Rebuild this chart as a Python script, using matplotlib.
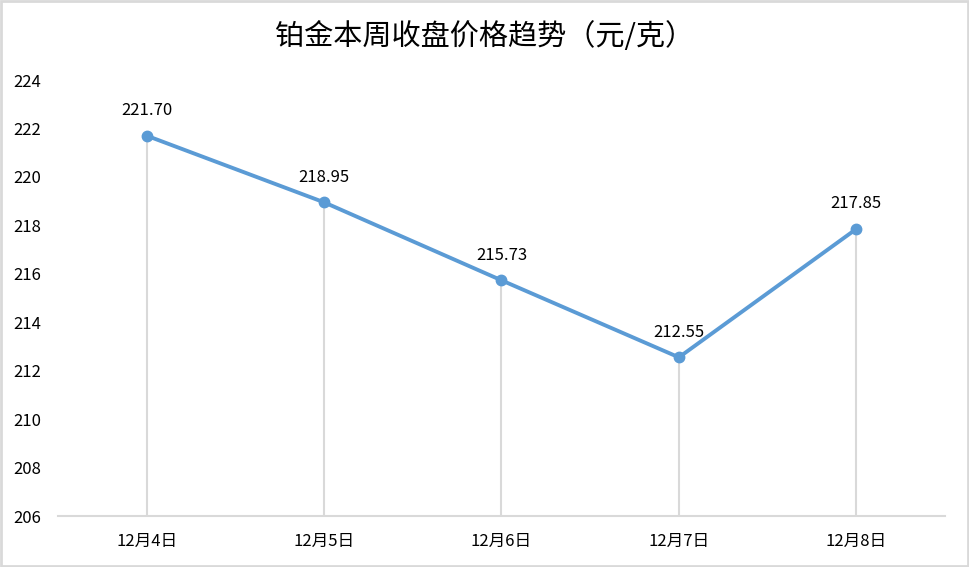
import matplotlib
matplotlib.use('Agg')
import matplotlib.pyplot as plt
from matplotlib.patches import Rectangle

plt.rcParams['font.family'] = ['Noto Sans CJK SC', 'DejaVu Sans']

dates = ['12月4日', '12月5日', '12月6日', '12月7日', '12月8日']
prices = [221.70, 218.95, 215.73, 212.55, 217.85]
yticks = [206, 208, 210, 212, 214, 216, 218, 220, 222, 224]

fig = plt.figure(figsize=(9.69, 5.67), dpi=100)
ax = fig.add_axes([58/969, 1 - 516/567, (945 - 58)/969, (516 - 80)/567])

x = list(range(len(dates)))
line_color = '#5b9bd5'
grey = '#d9d9d9'

# drop lines from each point down to the axis
ax.vlines(x, 206, prices, color=grey, linewidth=1.5, zorder=1)
ax.plot(x, prices, color=line_color, linewidth=2.8, marker='o', markersize=7.5, zorder=3)

for xi, p in zip(x, prices):
    ax.annotate(f'{p:.2f}', (xi, p), xytext=(0, 12), textcoords='offset points',
                ha='center', va='bottom', fontsize=12, color='#000000')

ax.set_xlim(-0.5, 4.5)
ax.set_ylim(206, 224)
ax.set_xticks(x)
ax.set_xticklabels(dates, fontsize=12)
ax.set_yticks(yticks)
ax.set_yticklabels([str(t) for t in yticks], fontsize=12)
ax.tick_params(axis='both', length=0)
ax.tick_params(axis='x', pad=12)
ax.tick_params(axis='y', pad=12)

for s in ['top', 'right', 'left']:
    ax.spines[s].set_visible(False)
ax.spines['bottom'].set_color(grey)
ax.spines['bottom'].set_linewidth(1.5)

fig.text(0.5, 1 - 37/567, '铂金本周收盘价格趋势（元/克）', ha='center', va='center', fontsize=21)

fig.patches.append(Rectangle((0.001, 0.002), 0.998, 0.996, transform=fig.transFigure,
                             fill=False, edgecolor=grey, linewidth=2))

fig.savefig('out.png', dpi=100)
